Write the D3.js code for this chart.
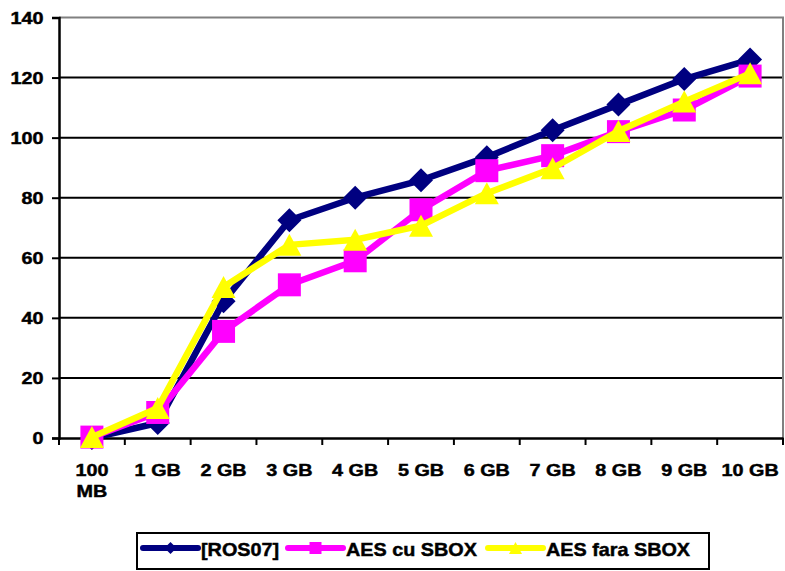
<!DOCTYPE html>
<html>
<head>
<meta charset="utf-8">
<script src="https://cdn.jsdelivr.net/npm/d3@7/dist/d3.min.js"></script>
<style>
  html, body { margin: 0; padding: 0; background: #fff; }
  svg { display: block; font-family: "Liberation Sans", Arial, sans-serif; font-weight: bold; }
  text { stroke: #000; stroke-width: 0.45px; }
</style>
</head>
<body>
<svg id="chart" width="785" height="571"></svg>
<script>
// Categories (file sizes) and the three series
const categories = ["100 MB", "1 GB", "2 GB", "3 GB", "4 GB", "5 GB", "6 GB", "7 GB", "8 GB", "9 GB", "10 GB"];
const ros07 = [0, 5, 45.5, 72.5, 80, 85.8, 93.5, 102.5, 111, 119.5, 126];
const aesCuSbox = [0.3, 8.5, 35.5, 51, 59, 76, 89, 94, 102, 109.2, 120.5];
const aesFaraSbox = [0.3, 10, 50.3, 64.3, 66, 70.7, 81.5, 89.8, 102.2, 112, 121.4];
const yTicks = [0, 20, 40, 60, 80, 100, 120, 140];
const seriesNames = ["[ROS07]", "AES cu SBOX", "AES fara SBOX"];

const series = [
  { name: seriesNames[0], values: ros07, color: "#000080", marker: "diamond" },
  { name: seriesNames[1], values: aesCuSbox, color: "#FF00FF", marker: "square" },
  { name: seriesNames[2], values: aesFaraSbox, color: "#FFFF00", marker: "triangle" }
];

const svg = d3.select("#chart");
const plotLeft = 59, plotRight = 783, plotTop = 17.5, plotBottom = 438;

const x = d3.scaleBand().domain(categories).range([plotLeft, plotRight]).padding(0);
const y = d3.scaleLinear().domain([0, 140]).range([plotBottom, plotTop]);
const cx = c => x(c) + x.bandwidth() / 2;

// Horizontal gridlines
svg.append("g").selectAll("line")
  .data(yTicks.filter(t => t > 0 && t < 140))
  .join("line")
  .attr("x1", plotLeft).attr("x2", plotRight)
  .attr("y1", d => y(d)).attr("y2", d => y(d))
  .attr("stroke", "#000").attr("stroke-width", 2);

// Plot border (top and right)
svg.append("path")
  .attr("d", `M${plotLeft},${y(140)}H${plotRight}V${plotBottom}`)
  .attr("fill", "none").attr("stroke", "#808080").attr("stroke-width", 2);

// Y axis
const yAxis = svg.append("g").attr("transform", `translate(${plotLeft},0)`)
  .call(d3.axisLeft(y).tickValues(yTicks).tickSize(7).tickFormat(""));
yAxis.select(".domain").attr("stroke", "#000").attr("stroke-width", 2.5);
yAxis.selectAll(".tick line").attr("stroke", "#000").attr("stroke-width", 2);

svg.append("g").selectAll("text")
  .data(yTicks)
  .join("text")
  .attr("transform", d => `translate(43.5,${y(d) + 6}) scale(1.2,1)`)
  .attr("text-anchor", "end")
  .attr("font-size", 16.5)
  .text(d => d);

// X axis with ticks between categories
const xAxis = svg.append("g").attr("transform", `translate(0,${plotBottom})`)
  .call(d3.axisBottom(x).tickSize(0).tickFormat(""));
xAxis.select(".domain").attr("stroke", "#000").attr("stroke-width", 2.5);
svg.append("g").selectAll("line")
  .data(categories.concat([null]))
  .join("line")
  .attr("x1", (d, i) => plotLeft + i * x.bandwidth())
  .attr("x2", (d, i) => plotLeft + i * x.bandwidth())
  .attr("y1", plotBottom).attr("y2", plotBottom + 7)
  .attr("stroke", "#000").attr("stroke-width", 2);

const xLabels = svg.append("g").selectAll("text")
  .data(categories)
  .join("text")
  .attr("transform", d => `translate(${cx(d)},476) scale(1.2,1)`)
  .attr("text-anchor", "middle")
  .attr("font-size", 16.5);
xLabels.each(function (d) {
  const t = d3.select(this);
  if (d === "100 MB") {
    t.append("tspan").attr("x", 0).attr("dy", 0).text("100");
    t.append("tspan").attr("x", 0).attr("dy", 21).text("MB");
  } else {
    t.text(d);
  }
});

// Marker shapes
function markerPath(type, s) {
  if (type === "diamond") return `M0,${-s}L${s},0L0,${s}L${-s},0Z`;
  if (type === "square") return `M${-s},${-s}H${s}V${s}H${-s}Z`;
  return `M0,${-s}L${s * 1.09},${s}H${-s * 1.09}Z`;
}
const markerSize = { diamond: 12, square: 11.5, triangle: 11 };

const line = d3.line().x((d, i) => cx(categories[i])).y(d => y(d));

series.forEach(s => {
  const g = svg.append("g");
  g.append("path")
    .attr("d", line(s.values))
    .attr("fill", "none").attr("stroke", s.color)
    .attr("stroke-width", 6.5).attr("stroke-linejoin", "round");
  g.selectAll("path.m")
    .data(s.values)
    .join("path").attr("class", "m")
    .attr("transform", (d, i) => `translate(${cx(categories[i])},${y(d)})`)
    .attr("d", markerPath(s.marker, markerSize[s.marker]))
    .attr("fill", s.color);
});

// Legend
const legend = svg.append("g");
legend.append("rect")
  .attr("x", 137).attr("y", 533).attr("width", 572).attr("height", 36)
  .attr("fill", "#fff").attr("stroke", "#000").attr("stroke-width", 2);

const legendX = [143, 288, 488];
series.forEach((s, i) => {
  const lx = legendX[i], ly = 548;
  legend.append("line")
    .attr("x1", lx).attr("x2", lx + 55).attr("y1", ly).attr("y2", ly)
    .attr("stroke", s.color).attr("stroke-width", 6).attr("stroke-linecap", "round");
  legend.append("path")
    .attr("transform", `translate(${lx + 27.5},${ly})`)
    .attr("d", markerPath(s.marker, 6))
    .attr("fill", s.color);
  legend.append("text")
    .attr("transform", `translate(${lx + 58},556) scale(1.1,1)`)
    .attr("font-size", 18)
    .text(s.name);
});
</script>
</body>
</html>
